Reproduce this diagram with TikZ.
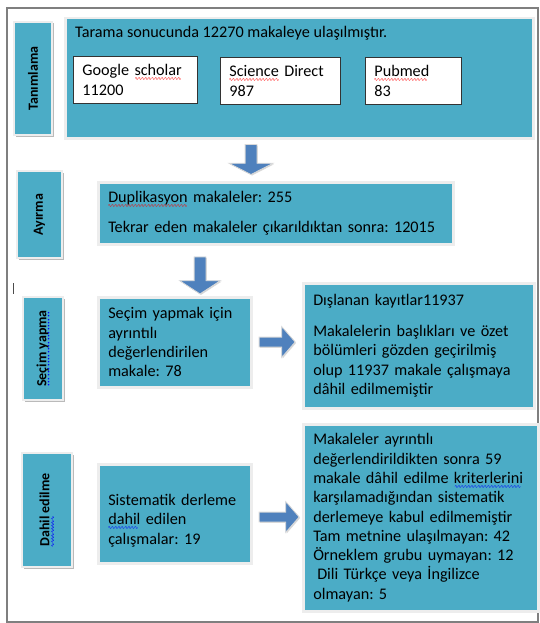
\documentclass[tikz,border=0pt]{standalone}
\usepackage{fontspec}
\setmainfont{Carlito}
\newfontfamily\wavefont{DejaVu Sans}
\usetikzlibrary{shapes.arrows,shadows}

\definecolor{stagefill}{HTML}{4BACC6}
\definecolor{arrowfill}{HTML}{4F81BD}
\definecolor{framegray}{HTML}{7F7F7F}

\frenchspacing
\newcommand\spellwave[2]{\setbox0\hbox{#2}\leavevmode\rlap{\copy0}%
  \textcolor{#1}{\wavefont\fontsize{5}{5}\selectfont
  \leaders\hbox{\lower5pt\hbox{\kern-.45pt\char"223F\kern-.45pt}}\hskip\wd0}}
\newcommand\spelldots[2]{\setbox0\hbox{#2}\leavevmode\rlap{\copy0}%
  \textcolor{#1}{\fontsize{10}{10}\selectfont
  \leaders\hbox{\lower3pt\hbox{\kern.3pt.\kern.3pt}}\hskip\wd0}}

\begin{document}
\begin{tikzpicture}[x=1pt, y=-1pt,
    font=\fontsize{16.2}{19.3}\selectfont,
    stage/.style={fill=stagefill, draw=white!93!black, line width=2.5pt,
      drop shadow={shadow xshift=1.5pt, shadow yshift=-1.5pt, fill=black!45, opacity=.6}},
    sidelabel/.style={stage, rotate=90, inner sep=0pt,
      font=\bfseries\fontsize{14}{16}\selectfont},
    phase/.style={stage, anchor=north west, align=left, inner xsep=10pt, inner ysep=0pt},
    source/.style={fill=white, draw=black!80, line width=.8pt, anchor=north west,
      align=left, inner xsep=9pt, inner ysep=0pt, minimum height=47pt},
    blockarrow/.style={single arrow, fill=arrowfill, draw=white!85!black, line width=.8pt,
      inner xsep=0pt,
      drop shadow={shadow xshift=1pt, shadow yshift=-1pt, fill=black!30, opacity=.5}}]

    \useasboundingbox (0,0) rectangle (539,623);
    \draw[framegray, line width=1.5pt] (7,8) rectangle (538,622);
    \draw[black!70, line width=1pt] (13,283) -- (13,294);

    \node[sidelabel, minimum width=113pt, minimum height=38pt] (tanimlama) at (33,78.5) {Tanımlama};
    \node[sidelabel, minimum width=87pt, minimum height=45pt] (ayirma) at (39.5,214.5) {Ayırma};
    \node[sidelabel, minimum width=103pt, minimum height=40pt] (secim) at (43,348.5) {\spelldots{blue}{Seçim yapma}};
    \node[sidelabel, minimum width=114pt, minimum height=50pt] (dahil) at (47,510) {\spellwave{blue}{Dahil} edilme};

    \node[stage, anchor=north west, minimum width=468pt, minimum height=120pt] (tarama) at (64,17) {};
    \node[anchor=west, inner sep=0pt] (taramatext) at (75,33) {Tarama sonucunda 12270 makaleye ulaşılmıştır.};
    \node[source, text width=106pt] (google) at (73,56) {Google \spellwave{red}{scholar}\\11200};
    \node[source, text width=102pt] (science) at (220,57) {\spellwave{red}{Science} Direct\\987};
    \node[source, text width=78pt] (pubmed) at (365,57) {\spellwave{red}{Pubmed}\\83};

    \node[blockarrow, rotate=-90, minimum height=30pt, inner ysep=5.5pt,
      single arrow head extend=16pt, single arrow tip angle=126] (arrA) at (251,158) {};

    \node[phase, text width=335pt, minimum height=62pt] (duplikasyon) at (97,181)
      {\spellwave{red}{Duplikasyon} makaleler: 255\\[10.5pt]Tekrar eden makaleler çıkarıldıktan sonra: 12015};

    \node[blockarrow, rotate=-90, minimum height=37pt, inner ysep=5.5pt,
      single arrow head extend=14.5pt, single arrow tip angle=114] (arrB) at (200,273.5) {};

    \node[phase, text width=133pt, minimum height=90pt] (secimbox) at (97,296)
      {Seçim yapmak için\\ayrıntılı\\değerlendirilen\\makale: 78};

    \node[blockarrow, minimum height=36pt, inner ysep=4.5pt,
      single arrow head extend=10.5pt, single arrow tip angle=98] (arrC) at (275,342) {};

    \node[phase, text width=211pt, minimum height=125pt] (dislanan) at (302,282)
      {Dışlanan kayıtlar11937\\[11.5pt]Makalelerin başlıkları ve özet\\bölümleri gözden geçirilmiş\\olup 11937 makale çalışmaya\\dâhil edilmemiştir};

    \node[phase, text width=133pt, minimum height=99pt] (sistematik) at (97,463)
      {\rule{0pt}{25pt}Sistematik derleme\\\spellwave{blue}{dahil} edilen\\çalışmalar: 19};

    \node[blockarrow, minimum height=40pt, inner ysep=4.5pt,
      single arrow head extend=10.5pt, single arrow tip angle=98] (arrD) at (277,517) {};

    \node[phase, text width=215pt, minimum height=187pt] (ayrintili) at (302,423)
      {Makaleler ayrıntılı\\değerlendirildikten sonra 59\\makale dâhil edilme \spellwave{blue}{kriterlerini}\\karşılamadığından sistematik\\derlemeye kabul edilmemiştir\\Tam metnine ulaşılmayan: 42\\Örneklem grubu uymayan: 12\\\hspace{4pt}Dili Türkçe veya İngilizce\\olmayan: 5};

  \end{tikzpicture}
\end{document}
